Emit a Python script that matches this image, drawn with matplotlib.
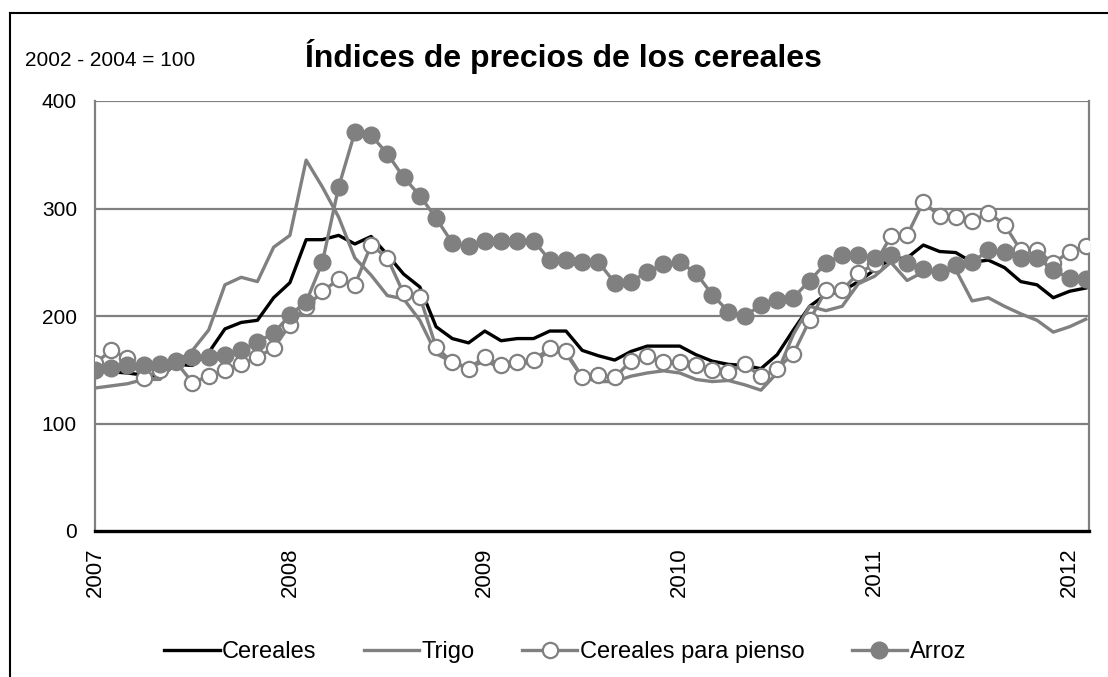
import matplotlib
matplotlib.use("Agg")
import matplotlib.pyplot as plt
from matplotlib.lines import Line2D

plt.rcParams['font.family'] = ['Liberation Sans', 'DejaVu Sans']

# Monthly data, Jan 2007 .. Feb 2012 (62 months)
year_labels = ["2007", "2008", "2009", "2010", "2011", "2012"]

cereales = [150, 148, 147, 145, 144, 155, 154, 166, 188, 194, 196, 217, 231, 271,
            271, 275, 267, 274, 257, 239, 227, 190, 179, 175, 186, 177, 179, 179,
            186, 186, 168, 163, 159, 167, 172, 172, 172, 164, 158, 155, 154, 151,
            164, 187, 209, 220, 223, 232, 243, 253, 254, 266, 260, 259, 250, 252,
            245, 232, 229, 217, 223, 226]

trigo = [133, 135, 137, 141, 141, 157, 168, 187, 229, 236, 232, 264, 275, 345,
         320, 292, 254, 238, 219, 216, 196, 165, 157, 152, 158, 152, 155, 157,
         168, 165, 143, 139, 139, 144, 147, 149, 147, 141, 139, 140, 136, 131,
         147, 183, 209, 205, 209, 230, 237, 250, 233, 241, 241, 243, 214, 217,
         209, 202, 196, 185, 190, 197]

pienso = [156, 168, 161, 142, 150, 157, 138, 144, 150, 155, 162, 170, 192, 208,
          223, 234, 229, 266, 254, 221, 218, 171, 157, 151, 162, 154, 157, 159,
          170, 167, 143, 145, 143, 158, 163, 157, 157, 154, 150, 148, 155, 144,
          151, 165, 196, 224, 224, 240, 248, 274, 275, 306, 293, 292, 288, 296,
          285, 261, 261, 249, 260, 265]

arroz = [150, 152, 154, 154, 155, 158, 162, 162, 164, 168, 176, 184, 201, 213,
         250, 320, 371, 368, 351, 329, 312, 291, 268, 265, 270, 270, 270, 270,
         252, 252, 250, 250, 231, 232, 241, 248, 250, 240, 220, 204, 200, 210,
         215, 217, 233, 249, 257, 257, 254, 257, 249, 244, 241, 247, 250, 261,
         260, 254, 254, 243, 235, 234]

series_names = ["Cereales", "Trigo", "Cereales para pienso", "Arroz"]

W, H = 1108, 677
fig = plt.figure(figsize=(W / 100, H / 100), dpi=100)
fig.patch.set_facecolor("white")

ax = fig.add_axes([95 / W, 1 - 531 / H, (1089 - 95) / W, (531 - 101) / H])

gray = "#808080"
x = list(range(len(cereales)))

ax.plot(x, cereales, color="black", lw=2.4, label=series_names[0], zorder=3)
ax.plot(x, trigo, color=gray, lw=2.4, label=series_names[1], zorder=4)
ax.plot(x, pienso, color=gray, lw=2.4, marker="o", ms=11, mfc="white",
        mec=gray, mew=1.6, label=series_names[2], zorder=5)
ax.plot(x, arroz, color=gray, lw=2.4, marker="o", ms=12, mfc=gray,
        mec=gray, label=series_names[3], zorder=6)

ax.set_xlim(0, 61.2)
ax.set_ylim(0, 400)
ax.set_yticks([0, 100, 200, 300, 400])
ax.set_yticklabels(["0", "100", "200", "300", "400"])
ax.set_xticks([0, 12, 24, 36, 48, 60])
ax.set_xticklabels(year_labels, rotation=90, va="top", ha="center")
ax.minorticks_off()

ax.tick_params(axis="y", which="both", length=0, pad=13, labelsize=15,
               right=False)
ax.tick_params(axis="x", which="both", length=0, pad=12, labelsize=16,
               top=False)

for yv in [100, 200, 300, 400]:
    ax.axhline(yv, color=gray, lw=1.6, zorder=1)

ax.spines["top"].set_visible(False)
ax.spines["left"].set_color(gray)
ax.spines["left"].set_linewidth(1.6)
ax.spines["right"].set_color(gray)
ax.spines["right"].set_linewidth(1.6)
ax.spines["bottom"].set_color("black")
ax.spines["bottom"].set_linewidth(2.4)
ax.spines["bottom"].set_zorder(7)

fig.text(305 / W, 1 - 57 / H, "Índices de precios de los cereales",
         fontsize=23, fontweight="bold", ha="left", va="center")
fig.text(25 / W, 1 - 60 / H, "2002 - 2004 = 100", fontsize=15,
         ha="left", va="center")

leg = fig.legend(loc="center", bbox_to_anchor=(565 / W, 1 - 652 / H), ncol=4,
                 frameon=False, fontsize=17, handlelength=2.35,
                 handletextpad=0.1, columnspacing=2.0)

# outer chart border (left and top edges visible)
fig.add_artist(Line2D([10 / W, 10 / W], [0, 1 - 13 / H], transform=fig.transFigure,
                      color="black", lw=1.5))
fig.add_artist(Line2D([10 / W, 1], [1 - 13 / H, 1 - 13 / H], transform=fig.transFigure,
                      color="black", lw=1.5))

fig.savefig("out.png", dpi=100, facecolor="white")
